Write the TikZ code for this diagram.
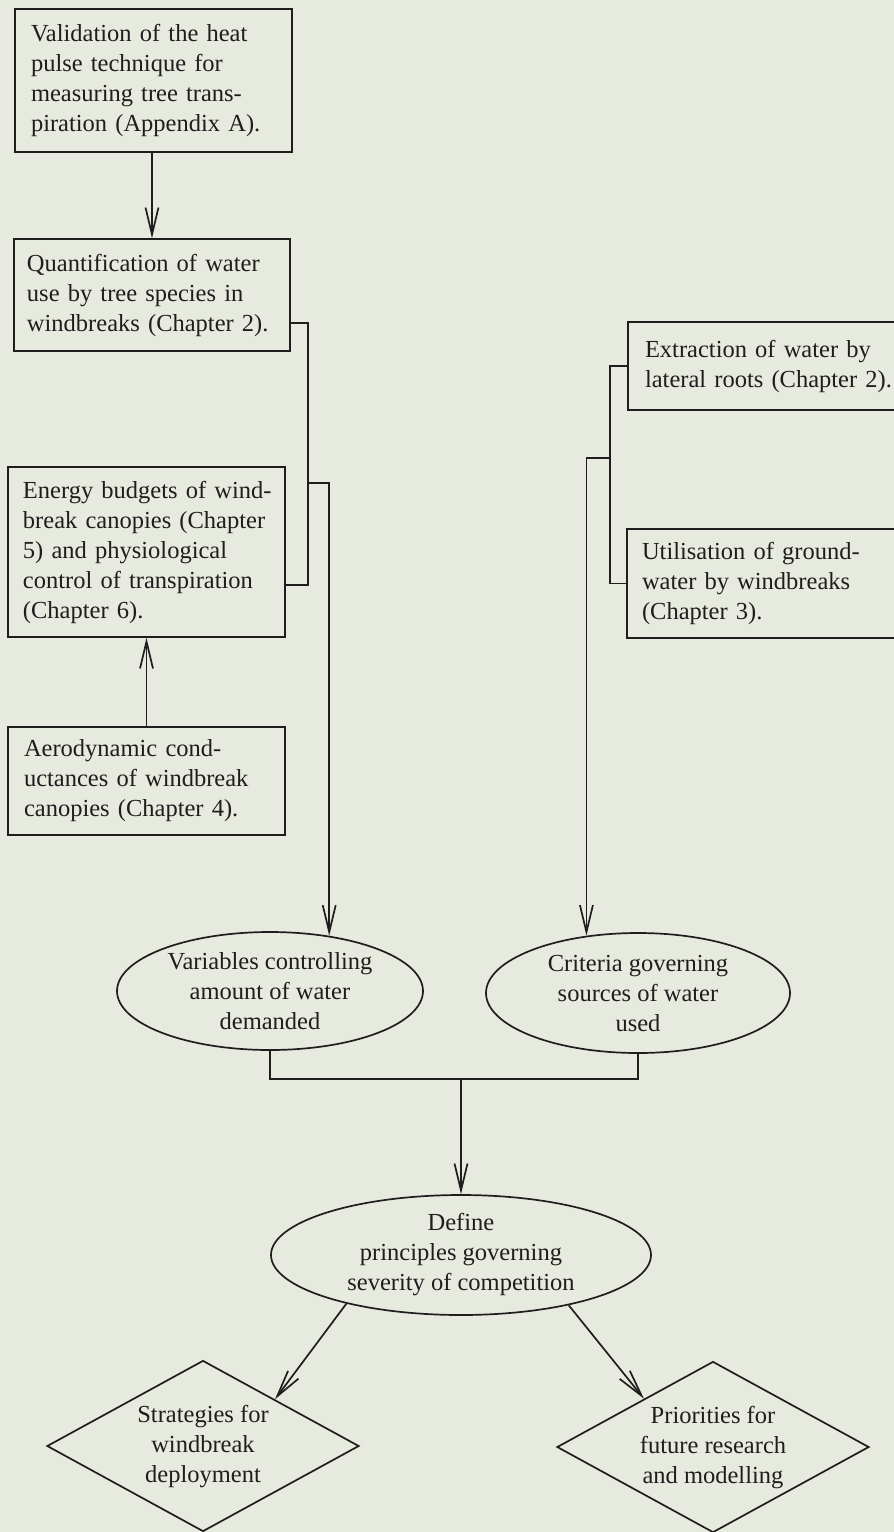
\documentclass[tikz,border=0pt]{standalone}
\usepackage{fontspec}
\setmainfont{Liberation Serif}
\usetikzlibrary{shapes.geometric,arrows.meta,calc}
\definecolor{paper}{RGB}{231,234,223}
\definecolor{ink}{RGB}{30,30,30}
\tikzset{
  txt/.style={font=\fontsize{24.5}{30}\selectfont, text=ink},
  boxnode/.style={txt, draw=ink, line width=1.7pt, rectangle, align=left, inner ysep=0pt},
  ellnode/.style={txt, draw=ink, line width=1.7pt, ellipse, align=center, inner xsep=0pt, inner ysep=-5pt},
  dianode/.style={txt, draw=ink, line width=1.7pt, diamond, align=center, inner sep=0pt,
                  minimum width=312pt, minimum height=171pt, aspect=1.82},
  link/.style={draw=ink, line width=1.7pt},
  arr/.style={link, -{Straight Barb[length=27pt,width=13pt]}},
}
\begin{document}
\begin{tikzpicture}[x=1pt,y=-1pt]
\path[use as bounding box, fill=paper] (0,0) rectangle (894,1532);
\clip (0,0) rectangle (894,1532);

% left column boxes
\node[boxnode, inner xsep=16pt, text width=245pt, minimum height=143pt] (B1) at (153.5,80.5)
  {\mbox{Validation of the heat}\\ \mbox{pulse technique for}\\ \mbox{measuring tree trans-}\\ \mbox{piration (Appendix A).}};
\node[boxnode, inner xsep=13pt, text width=250pt, minimum height=112pt] (B2) at (152,295)
  {\mbox{Quantification of water}\\ \mbox{use by tree species in}\\ \mbox{windbreaks (Chapter 2).}};
\node[boxnode, inner xsep=15pt, text width=247pt, minimum height=170pt] (B3) at (146.5,552)
  {\mbox{Energy budgets of wind-}\\ \mbox{break canopies (Chapter}\\ \mbox{5) and physiological}\\ \mbox{control of transpiration}\\ \mbox{(Chapter 6).}};
\node[boxnode, inner xsep=16pt, text width=245pt, minimum height=108pt] (B4) at (146.5,781)
  {\mbox{Aerodynamic cond-}\\ \mbox{uctances of windbreak}\\ \mbox{canopies (Chapter 4).}};

% right column boxes (cut by the page edge)
\node[boxnode, inner xsep=17pt, text width=268pt, minimum height=88pt] (R1) at (779,366)
  {\mbox{Extraction of water by}\\ \mbox{lateral roots (Chapter 2).}};
\node[boxnode, inner xsep=15pt, text width=273pt, minimum height=109pt] (R2) at (778.5,583.5)
  {\mbox{Utilisation of ground-}\\ \mbox{water by windbreaks}\\ \mbox{(Chapter 3).}};

% ellipses
\node[ellnode, minimum width=306pt, minimum height=118pt] (E1) at (270,991)
  {Variables controlling\\ amount of water\\ demanded};
\node[ellnode, minimum width=304pt, minimum height=120pt] (E2) at (638,993)
  {Criteria governing\\ sources of water\\ used};
\node[ellnode, minimum width=380pt, minimum height=120pt] (E3) at (461,1255)
  {Define\\ principles governing\\ severity of competition};

% diamonds
\node[dianode] (D1) at (203,1446) {Strategies for\\ windbreak\\ deployment};
\node[dianode] (D2) at (713,1447) {Priorities for\\ future research\\ and modelling};

% connectors, left side
\draw[arr] (B1.south -| B2.north) -- (B2.north);
\draw[arr] (B4.north) -- (B3.south);
\coordinate (k1) at (308,323);
\coordinate (k2) at (308,585);
\coordinate (j1) at (308,483);
\draw[link] (B2.east |- k1) -- (k1) -- (k2) -- (B3.east |- k2);
\draw[arr] (j1) -| (E1.43.3);

% connectors, right side
\coordinate (k3) at (610,458);
\draw[link] (R1.west) -| (k3) |- (R2.west);
\draw[arr] (k3) -| (E2.132.1);

% join of the two ellipses
\coordinate (m) at (461,1079);
\draw[link] (E1.south) |- (m) -| (E2.south);
\draw[arr] (m) -- (E3.north);

% to the diamonds
\draw[arr] (E3.203.8) -- (D1.33.7);
\draw[arr] (E3.335.4) -- (D2.145.2);
\end{tikzpicture}
\end{document}
